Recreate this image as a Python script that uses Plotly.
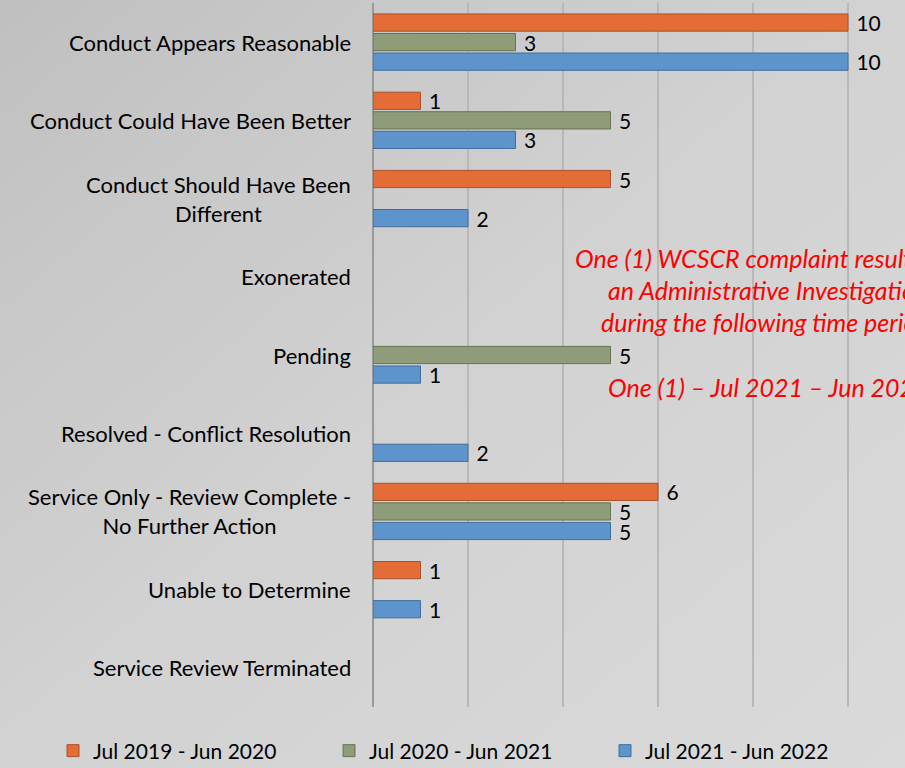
import plotly.graph_objects as go

categories = [
    "Conduct Appears Reasonable",
    "Conduct Could Have Been Better",
    "Conduct Should Have Been<br>Different",
    "Exonerated",
    "Pending",
    "Resolved - Conflict Resolution",
    "Service Only - Review Complete -<br>No Further Action",
    "Unable to Determine",
    "Service Review Terminated",
]
series_names = ["Jul 2019 - Jun 2020", "Jul 2020 - Jun 2021", "Jul 2021 - Jun 2022"]
vals_2019 = [10, 1, 5, None, None, None, 6, 1, None]
vals_2020 = [3, 5, None, None, 5, None, 5, None, None]
vals_2021 = [10, 3, 2, None, 1, 2, 5, 1, None]
note_lines = [
    "One (1) WCSCR complaint resulted in",
    "an Administrative Investigation",
    "during the following time period:",
    "",
    "One (1) – Jul 2021 – Jun 2022",
]

FONT = "Lato"
colors = ["#E46C36", "#8E9C7A", "#5E94CC"]
lines = ["#A8522A", "#66744F", "#3E6E9F"]

W, H = 905, 768
ML, MR, MT, MB = 373, 0, 3, 61
plot_w = W - ML - MR
plot_h = H - MT - MB
px_per_unit = 47.5
xmax = plot_w / px_per_unit


def to_paper(px, py):
    return (px - ML) / plot_w, (H - MB - py) / plot_h


fig = go.Figure()
for name, vals, c, lc in zip(series_names, [vals_2019, vals_2020, vals_2021], colors, lines):
    fig.add_trace(go.Bar(
        y=list(range(len(categories))), x=vals, orientation="h", name=name,
        marker=dict(color=c, line=dict(color=lc, width=1)),
        text=[(" " + str(v)) if v is not None else "" for v in vals],
        textposition="outside", cliponaxis=False, constraintext="none",
        textfont=dict(family=FONT, size=21, color="#000000"),
    ))

# background diagonal gradient (styling only)
stops = [(0.0, 192), (0.54, 202), (1.0, 210), (2.0, 218)]


def gray(s):
    for (s0, g0), (s1, g1) in zip(stops[:-1], stops[1:]):
        if s <= s1:
            return g0 + (g1 - g0) * (s - s0) / (s1 - s0)
    return stops[-1][1]


shapes = []
n = 40
for k in range(n):
    s = 2.0 * k / n
    if s <= 1:
        pts = [(s * W, 0), (W, 0), (W, H), (0, H), (0, s * H)]
    else:
        pts = [(W, (s - 1) * H), (W, H), ((s - 1) * W, H)]
    pp = [to_paper(a, b) for a, b in pts]
    path = "M " + " L ".join(f"{a:.5f},{b:.5f}" for a, b in pp) + " Z"
    g = int(round(gray(s + 1.0 / n)))
    shapes.append(dict(type="path", xref="paper", yref="paper", path=path,
                       fillcolor=f"rgb({g},{g},{g})", line=dict(width=0), layer="below"))

annotations = []
for i, cat in enumerate(categories):
    annotations.append(dict(
        x=0, y=i, xref="paper", yref="y", xanchor="right", yanchor="middle",
        xshift=-20, text=cat, showarrow=False, align="center",
        font=dict(family=FONT, size=22, color="#000000"),
    ))

note_y_px = [258, 290, 322, 354, 387]
for t, ypx in zip(note_lines, note_y_px):
    if not t:
        continue
    xp, yp = to_paper(768, ypx)
    annotations.append(dict(
        x=xp, y=yp, xref="paper", yref="paper",
        xanchor="center", yanchor="middle", text="<i>" + t + "</i>", showarrow=False,
        font=dict(family=FONT, size=25, color="#FF0000"),
    ))

lx, ly = to_paper(53, 751)
fig.update_layout(
    width=W, height=H,
    margin=dict(l=ML, r=MR, t=MT, b=MB, autoexpand=False),
    paper_bgcolor="#D0D0D0", plot_bgcolor="rgba(0,0,0,0)",
    barmode="group", bargap=0.25, bargroupgap=0.12,
    showlegend=True,
    legend=dict(orientation="h", xref="paper", yref="paper",
                x=lx, y=ly, xanchor="left", yanchor="middle",
                entrywidth=231, entrywidthmode="pixels",
                font=dict(family=FONT, size=21, color="#000000"),
                bgcolor="rgba(0,0,0,0)", traceorder="normal"),
    annotations=annotations,
    shapes=shapes,
    font=dict(family=FONT),
)
fig.update_xaxes(range=[0, xmax], dtick=2, showticklabels=False, showgrid=True,
                 gridcolor="#B8B8B8", gridwidth=1.5, zeroline=True,
                 zerolinecolor="#9A9A9A", zerolinewidth=2, showline=False)
fig.update_yaxes(range=[len(categories) - 0.5, -0.5], showticklabels=False,
                 showgrid=False, zeroline=False, showline=False)

fig.write_html("out.html", config={"displayModeBar": False},
               post_script="document.body.style.margin='0';document.body.style.overflow='hidden';")
